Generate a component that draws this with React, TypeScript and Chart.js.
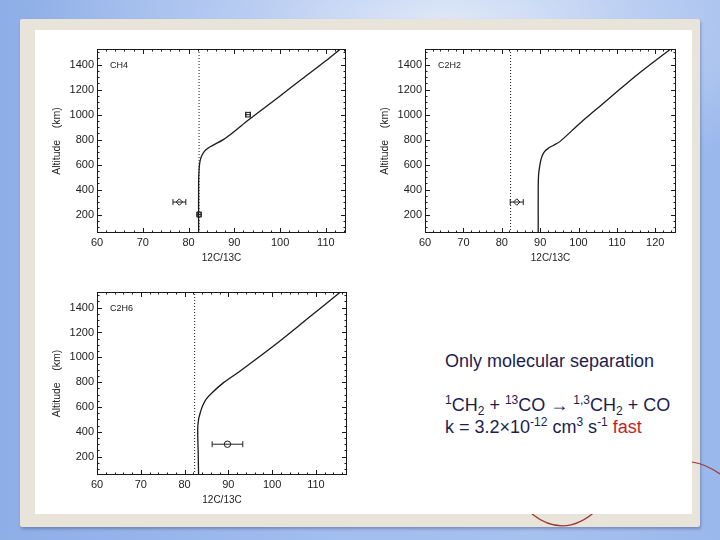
import React, { useEffect, useRef } from "react";
import { Chart, registerables } from "chart.js";
Chart.register(...registerables);

// ---------------- data ----------------
const altTicks = [200, 400, 600, 800, 1000, 1200, 1400];
const altRange = [52, 1526];
const refRatio = 82.3;

const ch4XTicks = [60, 70, 80, 90, 100, 110];
const ch4XMax = 114.4;
const ch4ModelRatio = [82.2, 82.2, 82.3, 82.5, 82.9, 83.5, 84.4, 85.6, 87.6, 90.0, 93.0, 100.0, 105.0, 110.0, 113.2];
const ch4ModelAlt = [52, 450, 560, 625, 672, 708, 735, 760, 800, 865, 955, 1150, 1292, 1432, 1526];
const ch4ObsRatio = [93.0, 78.0, 82.3];
const ch4ObsAlt = [1000, 300, 200];
const ch4ObsErr = [0.5, 1.4, 0.4];
const ch4ObsMarker = ["rect", "rectRot", "rect"];

const c2h2XTicks = [60, 70, 80, 90, 100, 110, 120];
const c2h2XMax = 125.4;
const c2h2ModelRatio = [89.5, 89.5, 89.6, 89.9, 90.3, 91.0, 92.0, 93.5, 95.2, 100.4, 106.5, 110.9, 115.3, 124.0];
const c2h2ModelAlt = [52, 420, 520, 590, 650, 698, 728, 755, 786, 932, 1092, 1207, 1320, 1526];
const c2h2ObsRatio = [83.9];
const c2h2ObsAlt = [300];
const c2h2ObsErr = [1.7];
const c2h2ObsMarker = ["rectRot"];

const c2h6XTicks = [60, 70, 80, 90, 100, 110];
const c2h6XMax = 117.1;
const c2h6ModelRatio = [83.2, 83.1, 83.0, 83.2, 83.6, 84.1, 84.9, 86.3, 88.9, 92.7, 100.3, 107.9, 115.6];
const c2h6ModelAlt = [52, 250, 420, 500, 556, 608, 662, 715, 796, 890, 1091, 1306, 1526];
const c2h6ObsRatio = [89.8];
const c2h6ObsAlt = [300];
const c2h6ObsErr = [3.5];
const c2h6ObsMarker = ["circle"];

// ---------------- layout / style ----------------
const FONT = '"Liberation Sans", Arial, Helvetica, sans-serif';
const INK = "#1a1a1a";

const idlFrame = {
  id: "idlFrame",
  afterDatasetsDraw(chart: any, _args: any, opts: any) {
    const { ctx, chartArea: a, scales } = chart;
    const x = scales.x;
    const y = scales.y;
    ctx.save();
    ctx.strokeStyle = INK;
    ctx.lineWidth = 1;
    ctx.strokeRect(a.left + 0.5, a.top + 0.5, a.right - a.left - 1, a.bottom - a.top - 1);
    ctx.beginPath();
    const near = (v: number, s: number) => Math.abs(v / s - Math.round(v / s)) < 1e-6;
    for (let v = Math.ceil(x.min / opts.xMinor) * opts.xMinor; v <= x.max + 1e-9; v += opts.xMinor) {
      const px = Math.round(x.getPixelForValue(v)) + 0.5;
      const len = near(v, opts.xMajor) ? 5 : 2.5;
      ctx.moveTo(px, a.bottom);
      ctx.lineTo(px, a.bottom - len);
      ctx.moveTo(px, a.top);
      ctx.lineTo(px, a.top + len);
    }
    for (let v = Math.ceil(y.min / opts.yMinor) * opts.yMinor; v <= y.max + 1e-9; v += opts.yMinor) {
      const py = Math.round(y.getPixelForValue(v)) + 0.5;
      const len = near(v, opts.yMajor) ? 5 : 2.5;
      ctx.moveTo(a.left, py);
      ctx.lineTo(a.left + len, py);
      ctx.moveTo(a.right, py);
      ctx.lineTo(a.right - len, py);
    }
    ctx.stroke();
    ctx.fillStyle = INK;
    ctx.font = `9px ${FONT}`;
    ctx.textBaseline = "middle";
    ctx.textAlign = "left";
    ctx.fillText(opts.label, a.left + 13, a.top + 17);
    ctx.restore();
  },
};

type Spec = {
  label: string;
  box: { x: number; y: number; w: number; h: number };
  yAxisW: number;
  xAxisH: number;
  padTop: number;
  padRight: number;
  yTitlePad: number;
  xTitlePad: number;
  xTicks: number[];
  xMax: number;
  modelRatio: number[];
  modelAlt: number[];
  obsRatio: number[];
  obsAlt: number[];
  obsErr: number[];
  obsMarker: string[];
};

function buildConfig(p: Spec): any {
  const model = p.modelRatio.map((r, i) => ({ x: r, y: p.modelAlt[i] }));
  const ref = altRange.map((a) => ({ x: refRatio, y: a }));
  const datasets: any[] = [
    { data: ref, showLine: true, borderColor: INK, borderWidth: 1, borderDash: [1, 2], pointRadius: 0 },
    { data: model, showLine: true, borderColor: INK, borderWidth: 1.3, pointRadius: 0, tension: 0.3 },
  ];
  p.obsRatio.forEach((r, i) => {
    datasets.push({
      data: [
        { x: r - p.obsErr[i], y: p.obsAlt[i] },
        { x: r + p.obsErr[i], y: p.obsAlt[i] },
      ],
      showLine: true,
      borderColor: "#222",
      borderWidth: 1,
      pointStyle: "line",
      rotation: 90,
      pointRadius: 3,
      pointBorderColor: "#222",
      pointBorderWidth: 1,
    });
  });
  datasets.push({
    data: p.obsRatio.map((r, i) => ({ x: r, y: p.obsAlt[i] })),
    showLine: false,
    pointStyle: p.obsMarker,
    pointRadius: 3.2,
    pointBackgroundColor: "rgba(0,0,0,0)",
    pointBorderColor: INK,
    pointBorderWidth: 1,
  });
  return {
    type: "scatter",
    data: { datasets },
    plugins: [idlFrame],
    options: {
      animation: false,
      responsive: false,
      events: [],
      layout: { padding: { top: p.padTop, right: p.padRight, left: 0, bottom: 0 } },
      plugins: {
        legend: { display: false },
        tooltip: { enabled: false },
        idlFrame: { label: p.label, xMinor: 2, xMajor: 10, yMinor: 50, yMajor: 200 },
      },
      scales: {
        x: {
          type: "linear",
          min: 60,
          max: p.xMax,
          afterBuildTicks: (s: any) => {
            s.ticks = p.xTicks.map((v) => ({ value: v }));
          },
          afterFit: (s: any) => {
            s.height = p.xAxisH;
          },
          grid: { display: false, drawTicks: false },
          border: { display: false },
          ticks: {
            padding: 3,
            color: "#222",
            font: { family: FONT, size: 11 },
            autoSkip: false,
            maxRotation: 0,
            callback: (v: any) => String(v),
          },
          title: {
            display: true,
            text: "12C/13C",
            color: "#222",
            font: { family: FONT, size: 10 },
            padding: { top: 0, bottom: p.xTitlePad },
          },
        },
        y: {
          type: "linear",
          min: altRange[0],
          max: altRange[1],
          afterBuildTicks: (s: any) => {
            s.ticks = altTicks.map((v) => ({ value: v }));
          },
          afterFit: (s: any) => {
            s.width = p.yAxisW;
          },
          grid: { display: false, drawTicks: false },
          border: { display: false },
          ticks: {
            padding: 3,
            color: "#222",
            font: { family: FONT, size: 11 },
            autoSkip: false,
            callback: (v: any) => String(v),
          },
          title: {
            display: true,
            text: "Altitude    (km)",
            color: "#222",
            font: { family: FONT, size: 10.5 },
            padding: { top: p.yTitlePad, bottom: 0 },
          },
        },
      },
    },
  };
}

const panels: Spec[] = [
  {
    label: "CH4",
    box: { x: 30, y: 36, w: 330, h: 240 },
    yAxisW: 67, xAxisH: 43, padTop: 13, padRight: 14, yTitlePad: 21, xTitlePad: 12,
    xTicks: ch4XTicks, xMax: ch4XMax,
    modelRatio: ch4ModelRatio, modelAlt: ch4ModelAlt,
    obsRatio: ch4ObsRatio, obsAlt: ch4ObsAlt, obsErr: ch4ObsErr, obsMarker: ch4ObsMarker,
  },
  {
    label: "C2H2",
    box: { x: 360, y: 36, w: 330, h: 240 },
    yAxisW: 65, xAxisH: 43, padTop: 13, padRight: 14, yTitlePad: 19, xTitlePad: 12,
    xTicks: c2h2XTicks, xMax: c2h2XMax,
    modelRatio: c2h2ModelRatio, modelAlt: c2h2ModelAlt,
    obsRatio: c2h2ObsRatio, obsAlt: c2h2ObsAlt, obsErr: c2h2ObsErr, obsMarker: c2h2ObsMarker,
  },
  {
    label: "C2H6",
    box: { x: 30, y: 279, w: 330, h: 240 },
    yAxisW: 67, xAxisH: 44, padTop: 13, padRight: 13, yTitlePad: 21, xTitlePad: 13,
    xTicks: c2h6XTicks, xMax: c2h6XMax,
    modelRatio: c2h6ModelRatio, modelAlt: c2h6ModelAlt,
    obsRatio: c2h6ObsRatio, obsAlt: c2h6ObsAlt, obsErr: c2h6ObsErr, obsMarker: c2h6ObsMarker,
  },
];

function PanelChart({ p }: { p: Spec }) {
  const ref = useRef<HTMLCanvasElement>(null);
  useEffect(() => {
    const chart = new Chart(ref.current as HTMLCanvasElement, buildConfig(p));
    return () => chart.destroy();
  }, [p]);
  return (
    <canvas
      ref={ref}
      width={p.box.w}
      height={p.box.h}
      style={{ position: "absolute", left: p.box.x, top: p.box.y, width: p.box.w, height: p.box.h }}
    />
  );
}

const sup = (t: string) => (
  <span style={{ fontSize: 12, position: "relative", top: -7 }}>{t}</span>
);
const sub = (t: string) => (
  <span style={{ fontSize: 12, position: "relative", top: 4 }}>{t}</span>
);

export default function App() {
  const textStyle: React.CSSProperties = {
    position: "absolute",
    left: 445,
    font: `18px ${FONT}`,
    lineHeight: "18px",
    color: "#1d1d4f",
    whiteSpace: "nowrap",
  };
  return (
    <div
      style={{
        position: "fixed",
        left: 0,
        top: 0,
        width: 720,
        height: 540,
        overflow: "hidden",
        background:
          "radial-gradient(ellipse 420px 160px at 62% 4%, rgba(226,234,248,0.95) 0%, rgba(205,219,245,0.6) 45%, rgba(160,188,236,0) 100%), linear-gradient(90deg, #8eaee7 0%, #a2bdef 45%, #a7c1ef 75%, #9bb8ec 100%)",
      }}
    >
      <div
        style={{
          position: "absolute",
          left: 20,
          top: 19,
          width: 680,
          height: 508,
          background: "#e8e4d9",
          boxShadow: "1px 2px 3px rgba(40,50,90,0.35)",
          borderRadius: 2,
        }}
      />
      <svg width={720} height={540} style={{ position: "absolute", left: 0, top: 0 }}>
        <path d="M 532 514 Q 565 540 598 509" fill="none" stroke="#9a3434" strokeWidth={1.2} />
        <path d="M 692 462 Q 706 464 720 474" fill="none" stroke="#9a3434" strokeWidth={1.2} />
      </svg>
      <div
        style={{ position: "absolute", left: 35, top: 30, width: 657, height: 484, background: "#ffffff" }}
      />
      {panels.map((p) => (
        <PanelChart key={p.label} p={p} />
      ))}
      <div style={{ ...textStyle, top: 352 }}>Only molecular separation</div>
      <div style={{ ...textStyle, top: 396 }}>
        {sup("1")}CH{sub("2")} + {sup("13")}CO → {sup("1,3")}CH{sub("2")} + CO
      </div>
      <div style={{ ...textStyle, top: 418 }}>
        k = 3.2×10{sup("-12")} cm{sup("3")} s{sup("-1")} <span style={{ color: "#c81e1e" }}>fast</span>
      </div>
    </div>
  );
}
